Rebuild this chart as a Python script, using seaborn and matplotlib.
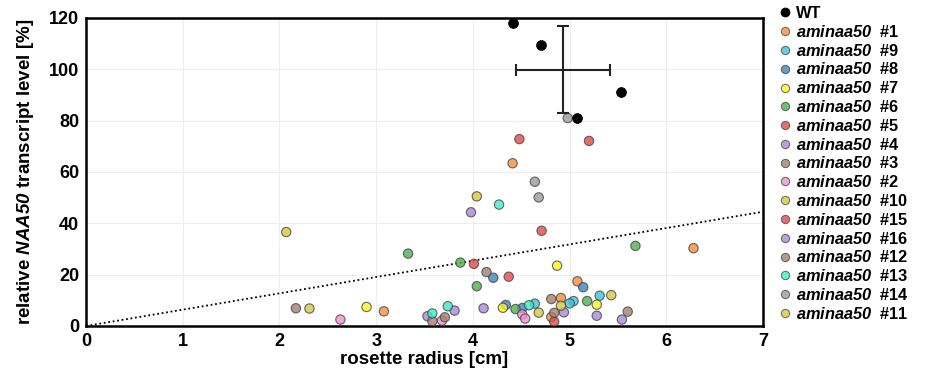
#!/usr/bin/env python3
import numpy as np
import pandas as pd
import seaborn as sns
import matplotlib as mpl
import matplotlib.pyplot as plt
from matplotlib.lines import Line2D

sns.set_theme(style="whitegrid")
mpl.rcParams["font.family"] = ["Liberation Sans", "DejaVu Sans"]
mpl.rcParams["font.weight"] = "bold"
mpl.rcParams["mathtext.fontset"] = "custom"
mpl.rcParams["mathtext.rm"] = "Liberation Sans:italic:bold"
mpl.rcParams["mathtext.it"] = "Liberation Sans:italic:bold"
mpl.rcParams["mathtext.bf"] = "Liberation Sans:italic:bold"
for key in ["text.color", "axes.labelcolor", "xtick.color", "ytick.color"]:
    mpl.rcParams[key] = "black"

# wild type
wt_radius = [4.41, 4.70, 5.53, 5.08]
wt_level = [118.0, 109.5, 91.0, 81.0]

# mutant lines, in legend order
lines = ["#1", "#9", "#8", "#7", "#6", "#5", "#4", "#3",
         "#2", "#10", "#15", "#16", "#12", "#13", "#14", "#11"]
colors = ["#f68d38", "#3ec4d6", "#3a86c4", "#faf324", "#4daf4d", "#e04a4a",
          "#a68ad6", "#a57e70", "#f08fd0", "#d4c842", "#e04a4a", "#a68ad6",
          "#a57e70", "#3debc8", "#9a9a9a", "#d4c842"]

radius = {
    "#1": [4.41, 6.28, 5.08, 4.91, 3.08, 4.81],
    "#9": [5.31, 5.04, 5.00, 4.64],
    "#8": [4.21, 5.14, 4.34, 4.51],
    "#7": [4.87, 5.28, 4.31, 2.90],
    "#6": [5.68, 3.33, 3.87, 4.04, 5.18, 4.44],
    "#5": [4.48, 4.71, 4.37],
    "#4": [3.98, 4.11, 3.53, 3.81],
    "#3": [4.14, 4.81, 2.17, 3.58],
    "#2": [4.51, 4.54, 2.63, 3.68],
    "#10": [4.04, 2.07, 2.31],
    "#15": [5.20, 4.01, 4.84],
    "#16": [4.94, 5.28, 5.54],
    "#12": [5.60, 4.84, 3.71],
    "#13": [4.27, 4.58, 3.58, 3.74],
    "#14": [4.98, 4.64, 4.68],
    "#11": [5.43, 4.91, 4.68],
}
level = {
    "#1": [63.4, 30.3, 17.4, 10.9, 5.7, 3.5],
    "#9": [11.8, 9.7, 8.8, 8.7],
    "#8": [18.8, 15.1, 8.2, 7.0],
    "#7": [23.5, 8.3, 7.1, 7.4],
    "#6": [31.2, 28.2, 24.7, 15.5, 9.7, 6.6],
    "#5": [72.8, 37.1, 19.2],
    "#4": [44.3, 6.9, 3.8, 6.0],
    "#3": [21.0, 10.5, 6.9, 1.9],
    "#2": [4.5, 2.9, 2.5, 2.1],
    "#10": [50.5, 36.6, 6.8],
    "#15": [72.1, 24.2, 1.7],
    "#16": [5.3, 4.0, 2.5],
    "#12": [5.6, 5.1, 3.4],
    "#13": [47.3, 8.1, 4.9, 7.7],
    "#14": [81.0, 56.2, 50.1],
    "#11": [12.0, 7.9, 5.2],
}

trend_slope = 6.36

rows = []
for ln in lines:
    for r, v in zip(radius[ln], level[ln]):
        rows.append({"line": ln, "radius": r, "level": v})
df = pd.DataFrame(rows)
palette = dict(zip(lines, colors))

fig = plt.figure(figsize=(9.48, 3.72), dpi=100)
ax = fig.add_axes([0.0907, 0.1237, 0.7143, 0.828])

ax.axline((0, 0), slope=trend_slope, color="black", ls=(0, (1, 1.5)), lw=1.3, zorder=2)

sns.scatterplot(data=df, x="radius", y="level", hue="line", hue_order=lines,
                palette=palette, s=45, alpha=0.8, edgecolor="#444444",
                linewidth=0.8, legend=False, ax=ax, zorder=3)
sns.scatterplot(x=wt_radius, y=wt_level, color="black", s=50,
                edgecolor="black", legend=False, ax=ax, zorder=4)

ax.errorbar(np.mean(wt_radius), np.mean(wt_level),
            xerr=np.std(wt_radius, ddof=1), yerr=np.std(wt_level, ddof=1),
            fmt="none", ecolor="#222222", elinewidth=1.5, capsize=4,
            capthick=1.5, zorder=5)

ax.set_xlim(0, 7)
ax.set_ylim(0, 120)
ax.set_xticks(range(0, 8))
ax.set_yticks(range(0, 121, 20))
ax.grid(color="#eeeeee", lw=0.8)
for sp in ax.spines.values():
    sp.set_color("black")
    sp.set_linewidth(1.8)
ax.tick_params(axis="x", length=3, width=1.2, color="black", direction="out",
               labelsize=13, pad=2)
ax.tick_params(axis="y", length=0, labelsize=13, pad=5)
for t in ax.get_xticklabels() + ax.get_yticklabels():
    t.set_fontweight("bold")

ax.set_xlabel("rosette radius [cm]", fontsize=13.5, fontweight="bold", labelpad=1)
ax.set_ylabel(r"relative $NAA50$ transcript level [%]", fontsize=13.5,
              fontweight="bold", labelpad=9)

handles = [Line2D([], [], marker="o", ls="", markersize=6,
                  markerfacecolor="black", markeredgecolor="black")]
labels = ["WT"]
for ln, c in zip(lines, colors):
    handles.append(Line2D([], [], marker="o", ls="", markersize=6,
                          markerfacecolor=c, markeredgecolor="#444444",
                          markeredgewidth=0.7, alpha=0.8))
    labels.append(r"$aminaa50$  " + ln)
fig.legend(handles, labels, loc="upper left", bbox_to_anchor=(0.812, 1.01),
           frameon=False, handlelength=0.6, handletextpad=0.4,
           labelspacing=0.17, borderaxespad=0.2,
           prop={"weight": "bold", "size": 11.8})

fig.savefig("out.png", dpi=100)
